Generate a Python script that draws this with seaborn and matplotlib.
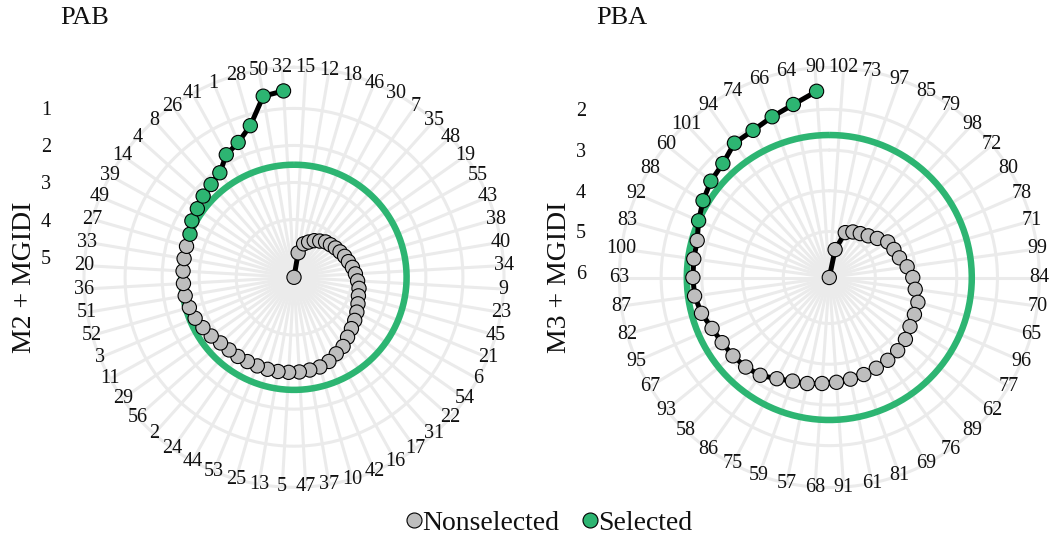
import numpy as np
import pandas as pd
import matplotlib
matplotlib.use("Agg")
import matplotlib.pyplot as plt
import seaborn as sns
from matplotlib.lines import Line2D

# ---------------- data ----------------
pab_genotypes = ["15", "12", "18", "46", "30", "7", "35", "48", "19", "55", "43", "38", "40", "34",
                 "9", "23", "45", "21", "6", "54", "22", "31", "17", "16", "42", "10", "37", "47",
                 "5", "13", "25", "53", "44", "24", "2", "56", "29", "11", "3", "52", "51", "36",
                 "20", "33", "27", "49", "39", "14", "4", "8", "26", "41", "1", "28", "50", "32"]
pab_mgidi = [5.56, 4.89, 4.62, 4.53, 4.43, 4.36, 4.28, 4.24, 4.19, 4.14,
             4.08, 4.03, 3.96, 3.90, 3.84, 3.78, 3.75, 3.69, 3.62, 3.55,
             3.48, 3.39, 3.27, 3.20, 3.10, 3.04, 3.02, 3.00, 2.99, 2.98,
             2.975, 2.97, 2.96, 2.94, 2.93, 2.90, 2.82, 2.75, 2.67, 2.62,
             2.58, 2.57, 2.56, 2.55, 2.54, 2.52, 2.41, 2.36, 2.27, 2.20,
             2.10, 1.78, 1.62, 1.30, 0.60, 0.52]
pab_cutpoint = 2.52
pab_rticks = [1, 2, 3, 4, 5]

pba_genotypes = ["102", "73", "97", "85", "79", "98", "72", "80", "78", "71", "99", "84", "70", "65",
                 "96", "77", "62", "89", "76", "69", "81", "61", "91", "68", "57", "59", "75", "86",
                 "58", "93", "67", "95", "82", "87", "63", "100", "83", "92", "88", "60", "101", "94",
                 "74", "66", "64", "90"]
pba_mgidi = [6.13, 5.43, 4.96, 4.87, 4.81, 4.73, 4.61, 4.45, 4.40, 4.34,
             4.20, 4.08, 4.00, 3.87, 3.85, 3.81, 3.72, 3.67, 3.64, 3.62,
             3.60, 3.58, 3.55, 3.52, 3.47, 3.43, 3.33, 3.19, 3.12, 3.08,
             3.05, 2.99, 2.87, 2.79, 2.78, 2.77, 2.76, 2.63, 2.50, 2.38,
             2.30, 2.09, 2.06, 1.94, 1.79, 1.545]
pba_cutpoint = 2.63
pba_rticks = [2, 3, 4, 5, 6]

legend_labels = ["Nonselected", "Selected"]

# ---------------- style ----------------
sns.set_theme(style="white")
plt.rcParams['font.family'] = ['Liberation Serif', 'DejaVu Serif']

W, H = 1056, 539
fig = plt.figure(figsize=(W / 100, H / 100), dpi=100)

GRID = "#EBEBEB"
GRAY = "#BEBEBE"
GREEN = "#2DB572"
TXT = "#111111"


def panel(cx, cy, R, genos, vals, cut, rticks, title, ylabel):
    n = len(genos)
    vmax, vmin = max(vals), min(vals)
    vout = vmin - 0.125 * (vmax - vmin)
    df = pd.DataFrame({
        "genotype": genos,
        "mgidi": vals,
        "theta": 2 * np.pi * (np.arange(n) + 0.5) / n,
    })
    df["sel"] = np.where(df["mgidi"] <= cut, "Selected", "Nonselected")

    ax = fig.add_axes([(cx - R) / W, 1 - (cy + R) / H, 2 * R / W, 2 * R / H], projection="polar")
    ax.set_theta_zero_location("N")
    ax.set_theta_direction(-1)
    ax.set_facecolor("none")
    ax.set_axisbelow(True)

    thfine = np.linspace(0, 2 * np.pi, 400)
    ax.plot(thfine, np.full_like(thfine, cut), color=GREEN, lw=4.7, zorder=2,
            solid_capstyle="butt")
    sns.lineplot(data=df, x="theta", y="mgidi", sort=False, estimator=None,
                 color="black", lw=3.6, ax=ax, zorder=3)
    sns.scatterplot(data=df, x="theta", y="mgidi", hue="sel",
                    palette={"Nonselected": GRAY, "Selected": GREEN},
                    s=105, edgecolor="black", linewidth=0.8, legend=False,
                    ax=ax, zorder=4)

    ax.set_ylim(vmax, vout)
    ax.set_xticks(df["theta"].values)
    ax.set_xticklabels([])
    ax.set_yticks(rticks)
    ax.set_yticklabels([])
    ax.tick_params(length=0, pad=0)
    ax.grid(True, color=GRID, lw=2.2)
    ax.spines["polar"].set_color(GRID)
    ax.spines["polar"].set_linewidth(2.2)
    ax.set_xlabel("")
    ax.set_ylabel("")

    for th, g in zip(df["theta"], df["genotype"]):
        ax.text(th, vout, g, ha="center", va="center", fontsize=14.5,
                color=TXT, clip_on=False, zorder=5)

    # radial axis labels on the left of the panel (as in ggplot coord_polar)
    R2 = R * 0.5 / 0.45
    d = (vmax - vout) / 0.9
    ax2 = fig.add_axes([(cx - R2) / W, 1 - (cy + R2) / H, 2 * R2 / W, 2 * R2 / H])
    ax2.patch.set_alpha(0)
    for s in ax2.spines.values():
        s.set_visible(False)
    ax2.set_xticks([])
    ax2.set_ylim(vmax + d, vmax - d)
    ax2.set_yticks(rticks)
    ax2.set_yticklabels([str(t) for t in rticks])
    ax2.tick_params(axis="y", length=0, pad=7, labelsize=14.5, labelcolor=TXT)
    ax2.set_ylabel(ylabel, fontsize=20, labelpad=3, color=TXT)
    ax2.set_zorder(-1)

    fig.text((cx - R2) / W, 1 - 18.5 / H, title, fontsize=19, ha="left", va="center",
             color=TXT)


panel(294.0, 277.3, 210.0, pab_genotypes, pab_mgidi, pab_cutpoint, pab_rticks,
      "PAB", "M2 + MGIDI")
panel(829.3, 277.5, 210.0, pba_genotypes, pba_mgidi, pba_cutpoint, pba_rticks,
      "PBA", "M3 + MGIDI")

handles = [Line2D([], [], ls="none", marker="o", markersize=10.8, markerfacecolor=c,
                  markeredgecolor="black", markeredgewidth=0.8) for c in (GRAY, GREEN)]
fig.legend(handles, legend_labels, loc="center", bbox_to_anchor=(546.5 / W, 1 - 523 / H),
           ncol=2, frameon=False, fontsize=20, handletextpad=-0.2, columnspacing=0.6,
           handlelength=1.0, borderpad=0, labelcolor=TXT)

fig.savefig("out.png", dpi=100)
